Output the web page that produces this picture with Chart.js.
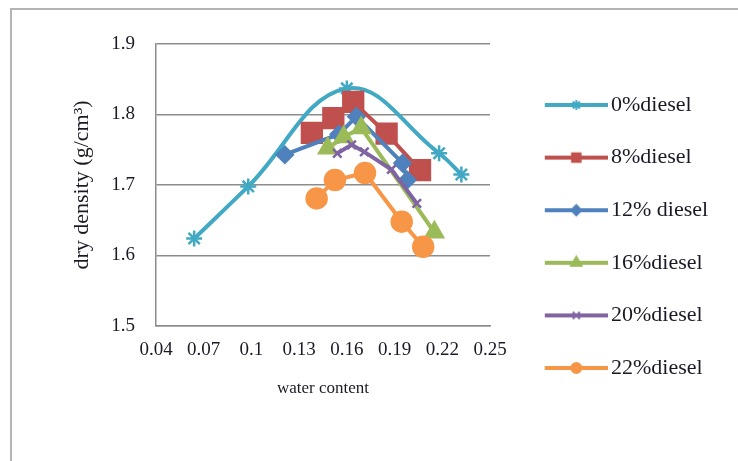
<!DOCTYPE html>
<html>
<head>
<meta charset="utf-8">
<script src="https://cdn.jsdelivr.net/npm/chart.js@4.4.0/dist/chart.umd.min.js"></script>
<style>
  html, body { margin: 0; padding: 0; background: #fff; }
  #frame { position: absolute; left: 10px; top: 8px; width: 800px; height: 500px;
           border-top: 2px solid #b4b4b4; border-left: 2px solid #b4b4b4; }
  #chart { position: absolute; left: 0; top: 0; }
</style>
</head>
<body>
<div id="frame"></div>
<canvas id="chart" width="738" height="461"></canvas>
<script>
// values
const seriesNames = ['0%diesel', '8%diesel', '12% diesel', '16%diesel', '20%diesel', '22%diesel'];
const seriesColors = ['#41a9c3', '#c0504d', '#4f81bd', '#9bbb59', '#8064a2', '#f79646'];

const water0 = [0.064, 0.098, 0.160, 0.218, 0.232];
const density0 = [1.624, 1.698, 1.837, 1.745, 1.715];
const water8 = [0.138, 0.1515, 0.164, 0.185, 0.206];
const density8 = [1.774, 1.795, 1.818, 1.773, 1.721];
const water12 = [0.121, 0.155, 0.166, 0.195, 0.198];
const density12 = [1.743, 1.772, 1.797, 1.731, 1.707];
const water16 = [0.148, 0.158, 0.169, 0.215];
const density16 = [1.752, 1.768, 1.781, 1.633];
const water20 = [0.154, 0.163, 0.171, 0.188, 0.204];
const density20 = [1.745, 1.757, 1.747, 1.722, 1.674];
const water22 = [0.141, 0.1525, 0.1714, 0.1945, 0.208];
const density22 = [1.681, 1.707, 1.717, 1.648, 1.6125];

const xTicks = [0.04, 0.07, 0.1, 0.13, 0.16, 0.19, 0.22, 0.25];
const xTickLabels = ['0.04', '0.07', '0.1', '0.13', '0.16', '0.19', '0.22', '0.25'];
const yTicks = [1.5, 1.6, 1.7, 1.8, 1.9];

const serif = 'Liberation Serif';
const textColor = '#1a1a26';
const gridColor = '#8c8c8c';

const waters = [water0, water8, water12, water16, water20, water22];
const densities = [density0, density8, density12, density16, density20, density22];
const styles = ['star', 'rect', 'rectRot', 'triangle', 'crossRot', 'circle'];
const radii = [8, 14, 8, 10, 6, 10];
const legendRadii = [5, 6, 5, 6, 5, 5];

// legend swatch: a line with the marker in its middle
const legendFont = 22;
const legendPad = 30.6;
const swatchBox = 79.4;
function legendImage(i) {
  const c = document.createElement('canvas');
  c.width = 95; c.height = 22;
  const g = c.getContext('2d');
  g.strokeStyle = seriesColors[i];
  g.fillStyle = seriesColors[i];
  g.lineWidth = 4;
  g.beginPath(); g.moveTo(32, 11); g.lineTo(95, 11); g.stroke();
  g.lineWidth = 2;
  Chart.helpers.drawPoint(g, {pointStyle: styles[i], radius: legendRadii[i], rotation: 0, borderWidth: 2}, 63.5, 11);
  return c;
}

// plot ends at x=490 in the figure, legend takes the rest
const plotRight = 490;
const legendWidth = 738 - plotRight - 4;

// let the legend be wider than chart.js' default cap for side boxes
const wideLegend = {
  id: 'wideLegend',
  beforeLayout(chart) {
    const lg = chart.legend;
    if (lg && !lg._wide) {
      const up = lg.update;
      lg.update = function (mw, mh, margins) {
        up.call(this, legendWidth, mh, margins);
        this.width = legendWidth;
      };
      lg._wide = true;
    }
  }
};

const datasets = seriesNames.map((name, i) => ({
  label: name,
  data: waters[i].map((x, j) => ({x: x, y: densities[i][j]})),
  borderColor: seriesColors[i],
  backgroundColor: seriesColors[i],
  pointBackgroundColor: seriesColors[i],
  pointBorderColor: seriesColors[i],
  pointStyle: styles[i],
  pointRadius: radii[i],
  pointBorderWidth: 2.5,
  borderWidth: 4,
  tension: i === 0 ? 0.4 : 0,
  order: seriesNames.length - i
}));

new Chart(document.getElementById('chart'), {
  type: 'line',
  data: { datasets: datasets },
  options: {
    responsive: false,
    animation: false,
    devicePixelRatio: 1,
    layout: { padding: { left: 0, top: 44, right: 4, bottom: 32 } },
    plugins: {
      tooltip: { enabled: false },
      legend: {
        position: 'right',
        align: 'center',
        labels: {
          usePointStyle: true,
          pointStyleWidth: swatchBox,
          padding: legendPad,
          color: textColor,
          font: { family: serif, size: legendFont },
          sort: (a, b) => a.datasetIndex - b.datasetIndex,
          generateLabels: chart => Chart.defaults.plugins.legend.labels.generateLabels(chart).map(l => {
            l.pointStyle = legendImage(l.datasetIndex);
            return l;
          })
        }
      }
    },
    scales: {
      x: {
        type: 'linear',
        min: 0.04,
        max: 0.25,
        afterBuildTicks: s => { s.ticks = xTicks.map(v => ({value: v})); },
        afterFit: s => { s.height = 103; },
        ticks: {
          padding: 13,
          color: textColor,
          font: { family: serif, size: 19 },
          callback: (v, i) => xTickLabels[i]
        },
        grid: { display: false, drawTicks: false },
        border: { display: true, color: gridColor, width: 1.5 },
        title: {
          display: true,
          text: 'water content',
          color: textColor,
          font: { family: serif, size: 17 },
          padding: { top: 0, bottom: 30 }
        }
      },
      y: {
        min: 1.5,
        max: 1.9,
        afterBuildTicks: s => { s.ticks = yTicks.map(v => ({value: v})); },
        afterFit: s => { s.width = 156; },
        ticks: {
          padding: 21,
          color: textColor,
          font: { family: serif, size: 19 },
          callback: v => v.toFixed(1)
        },
        grid: { color: gridColor, lineWidth: 1.5, drawTicks: false },
        border: { display: true, color: gridColor, width: 1.5 },
        title: {
          display: true,
          text: 'dry density (g/cm³)',
          color: textColor,
          font: { family: serif, size: 22 },
          padding: { top: 69, bottom: 0 }
        }
      }
    }
  },
  plugins: [wideLegend]
});
</script>
</body>
</html>
